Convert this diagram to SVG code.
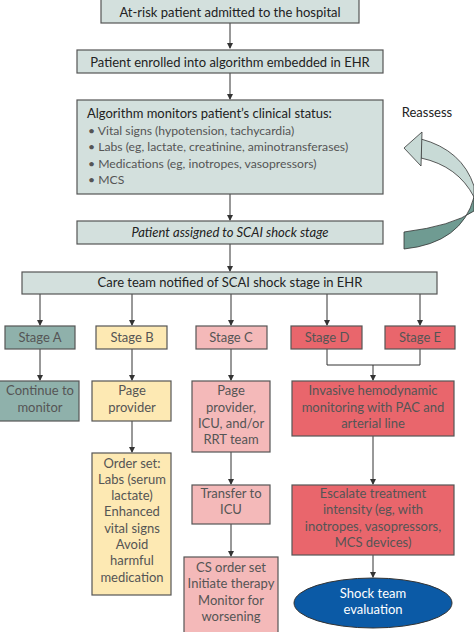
<svg xmlns="http://www.w3.org/2000/svg" width="474" height="632" viewBox="0 0 474 632">
<style>
text{font-family:Lato,"Open Sans","Liberation Sans",sans-serif;font-size:13px;fill:#222;text-anchor:middle}
.g{fill:#d3e0dd;stroke:#555;stroke-width:1.2}
.a{fill:#8fb1ab;stroke:#555;stroke-width:1.2}
.b{fill:#fde9b3;stroke:#555;stroke-width:1.2}
.c{fill:#f4b9b9;stroke:#555;stroke-width:1.2}
.d{fill:#e9666c;stroke:#555;stroke-width:1.2}
.l{text-anchor:start}
.bl{font-size:12.2px}
.s{fill:#555}
.w{fill:#fff}
.ln{fill:none;stroke:#333;stroke-width:1}
</style>
<defs>
<marker id="ah" markerWidth="6" markerHeight="6" refX="5" refY="3" orient="auto" markerUnits="userSpaceOnUse">
<path d="M0,0 L6,3 L0,6 Z" fill="#333"/>
</marker>
</defs>
<g id="connectors">
<path class="ln" d="M230,23 V48" marker-end="url(#ah)"/>
<path class="ln" d="M230,73 V99" marker-end="url(#ah)"/>
<path class="ln" d="M230,194 V220" marker-end="url(#ah)"/>
<path class="ln" d="M230,244 V271" marker-end="url(#ah)"/>
<path class="ln" d="M40,294 V325" marker-end="url(#ah)"/>
<path class="ln" d="M132,294 V325" marker-end="url(#ah)"/>
<path class="ln" d="M231,294 V325" marker-end="url(#ah)"/>
<path class="ln" d="M327,294 V325" marker-end="url(#ah)"/>
<path class="ln" d="M420,294 V325" marker-end="url(#ah)"/>
<path class="ln" d="M40,349 V380" marker-end="url(#ah)"/>
<path class="ln" d="M132,349 V380" marker-end="url(#ah)"/>
<path class="ln" d="M231,349 V380" marker-end="url(#ah)"/>
<path class="ln" d="M327,349 V365 H420 V349"/>
<path class="ln" d="M373,365 V380" marker-end="url(#ah)"/>
<path class="ln" d="M132,421 V452" marker-end="url(#ah)"/>
<path class="ln" d="M231,452 V484" marker-end="url(#ah)"/>
<path class="ln" d="M231,524 V556" marker-end="url(#ah)"/>
<path class="ln" d="M373,436 V484" marker-end="url(#ah)"/>
<path class="ln" d="M373,555 V577" marker-end="url(#ah)"/>
</g>
<g id="reassess">
<text x="427" y="117">Reassess</text>
<path d="M474,197 Q462,243 404,249 L404,232 Q452,226 474,211 Z" fill="#6f9b92" stroke="#333" stroke-width="0.8"/>
<path d="M421,139 Q462,150 474,186 L474,197 Q458,166 421,158 Z" fill="#c8dad6" stroke="#333" stroke-width="0.8"/>
<path d="M404,148 L422,132 L421,166 Z" fill="#c8dad6" stroke="#333" stroke-width="0.8"/>
</g>
<g id="n1"><rect class="g" x="101" y="-1" width="258" height="24"/><text x="230" y="17">At-risk patient admitted to the hospital</text></g>
<g id="n2"><rect class="g" x="77" y="50" width="306" height="23"/><text x="230" y="67">Patient enrolled into algorithm embedded in EHR</text></g>
<g id="n3"><rect class="g" x="77" y="100" width="306" height="94"/>
<text class="l" x="87" y="118">Algorithm monitors patient’s clinical status:</text>
<text class="l s bl" x="88" y="135">• Vital signs (hypotension, tachycardia)</text>
<text class="l s bl" x="88" y="151">• Labs (eg, lactate, creatinine, aminotransferases)</text>
<text class="l s bl" x="88" y="168">• Medications (eg, inotropes, vasopressors)</text>
<text class="l s bl" x="88" y="184">• MCS</text></g>
<g id="n4"><rect class="g" x="77" y="221" width="306" height="23"/><text x="230" y="237" font-style="italic">Patient assigned to SCAI shock stage</text></g>
<g id="n5"><rect class="g" x="22" y="272" width="415" height="22"/><text x="230" y="287">Care team notified of SCAI shock stage in EHR</text></g>
<g id="stageA"><rect class="a" x="5" y="326" width="70" height="23"/><text class="s" x="40" y="342">Stage A</text></g>
<g id="stageB"><rect class="b" x="96" y="326" width="71" height="23"/><text class="s" x="132" y="342">Stage B</text></g>
<g id="stageC"><rect class="c" x="196" y="326" width="71" height="23"/><text class="s" x="231" y="342">Stage C</text></g>
<g id="stageD"><rect class="d" x="291" y="326" width="71" height="23"/><text class="s" x="327" y="342">Stage D</text></g>
<g id="stageE"><rect class="d" x="385" y="326" width="70" height="23"/><text class="s" x="420" y="342">Stage E</text></g>
<g id="contA"><rect class="a" x="-1" y="381" width="80" height="40"/><text class="s" x="40" y="395">Continue to</text><text class="s" x="40" y="412">monitor</text></g>
<g id="pageB"><rect class="b" x="92" y="381" width="79" height="40"/><text class="s" x="132" y="395">Page</text><text class="s" x="132" y="412">provider</text></g>
<g id="orderB"><rect class="b" x="92" y="453" width="79" height="142"/>
<text class="s" x="132" y="468">Order set:</text><text class="s" x="132" y="484">Labs (serum</text><text class="s" x="132" y="500">lactate)</text><text class="s" x="132" y="516">Enhanced</text><text class="s" x="132" y="533">vital signs</text><text class="s" x="132" y="549">Avoid</text><text class="s" x="132" y="565">harmful</text><text class="s" x="132" y="582">medication</text></g>
<g id="pageC"><rect class="c" x="192" y="381" width="78" height="71"/>
<text class="s" x="231" y="395">Page</text><text class="s" x="231" y="412">provider,</text><text class="s" x="231" y="428">ICU, and/or</text><text class="s" x="231" y="444">RRT team</text></g>
<g id="transferC"><rect class="c" x="192" y="485" width="78" height="39"/><text class="s" x="231" y="498">Transfer to</text><text class="s" x="231" y="514">ICU</text></g>
<g id="csC"><rect class="c" x="184" y="557" width="94" height="80"/>
<text class="s" x="231" y="572">CS order set</text><text class="s" x="231" y="588">Initiate therapy</text><text class="s" x="231" y="605">Monitor for</text><text class="s" x="231" y="621">worsening</text></g>
<g id="invasiveDE"><rect class="d" x="292" y="381" width="162" height="55"/>
<text class="s" x="373" y="395">Invasive hemodynamic</text><text class="s" x="373" y="412">monitoring with PAC and</text><text class="s" x="373" y="428">arterial line</text></g>
<g id="escalateDE"><rect class="d" x="292" y="485" width="162" height="70"/>
<text class="s" x="373" y="498">Escalate treatment</text><text class="s" x="373" y="514">intensity (eg, with</text><text class="s" x="373" y="531">inotropes, vasopressors,</text><text class="s" x="373" y="547">MCS devices)</text></g>
<g id="shock"><ellipse cx="373" cy="603" rx="79" ry="25" fill="#0b5aa6" stroke="#333" stroke-width="1"/>
<text class="w" x="373" y="598">Shock team</text><text class="w" x="373" y="614">evaluation</text></g>
</svg>
